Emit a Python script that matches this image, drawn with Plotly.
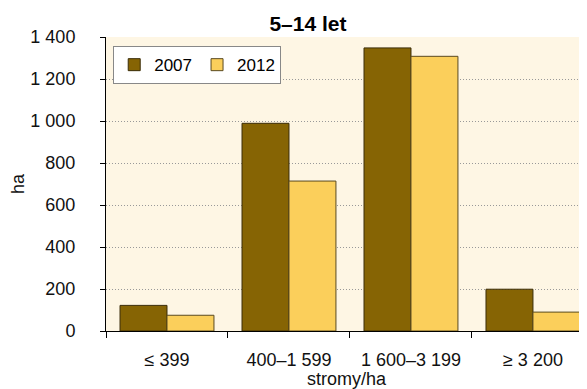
import plotly.graph_objects as go

# categories (trees per hectare) and area in ha for the two surveys
categories = ['≤ 399', '400–1 599', '1 600–3 199', '≥ 3 200']
values_2007 = [122, 989, 1348, 199]
values_2012 = [75, 714, 1308, 90]
y_ticks = [0, 200, 400, 600, 800, 1000, 1200, 1400]

FONT = 'Arial, Liberation Sans, sans-serif'

fig = go.Figure()
fig.add_trace(go.Bar(
    x=categories, y=values_2007, name='2007',
    marker=dict(color='#866404', line=dict(color='#3a2c08', width=1)),
))
fig.add_trace(go.Bar(
    x=categories, y=values_2012, name='2012',
    marker=dict(color='#fbcf5b', line=dict(color='#5a4a20', width=1)),
))

# the page body keeps its 8px margin, so the figure is 8px smaller each way
fig.update_layout(
    width=579, height=381,
    margin=dict(l=98, r=0, t=29, b=58),
    paper_bgcolor='white',
    plot_bgcolor='#fef6e4',
    separators=', ',
    font=dict(family=FONT, size=18, color='#111'),
    title=dict(text='<b>5–14 let</b>', x=0.518, xanchor='center', y=0.958, yanchor='middle',
               font=dict(size=21, color='black')),
    barmode='group',
    bargap=0.23,
    bargroupgap=0,
    showlegend=True,
    legend=dict(
        orientation='h', x=0.015, y=0.969, xanchor='left', yanchor='top',
        bgcolor='white', bordercolor='#888', borderwidth=1,
        font=dict(size=17, color='black'),
        itemwidth=30,
    ),
)

fig.update_xaxes(
    range=[-0.5, 3.443],
    automargin=False,
    showline=True, linecolor='black', linewidth=1,
    ticks='outside', tickson='boundaries', ticklen=6, tickcolor='black',
    ticklabelstandoff=12,
    title=dict(text='stromy/ha', standoff=3, font=dict(size=18)),
    showgrid=False,
)
fig.update_yaxes(
    range=[0, 1400],
    automargin=False,
    tickvals=y_ticks,
    tickformat=',d',
    showline=True, linecolor='black', linewidth=1,
    ticks='outside', ticklen=5, tickcolor='black',
    ticklabelstandoff=21,
    showgrid=True, gridcolor='#999', griddash='1px,2px', gridwidth=1,
    zeroline=False,
    title=dict(text='ha', standoff=8, font=dict(size=18)),
)

fig.write_html('out.html')
